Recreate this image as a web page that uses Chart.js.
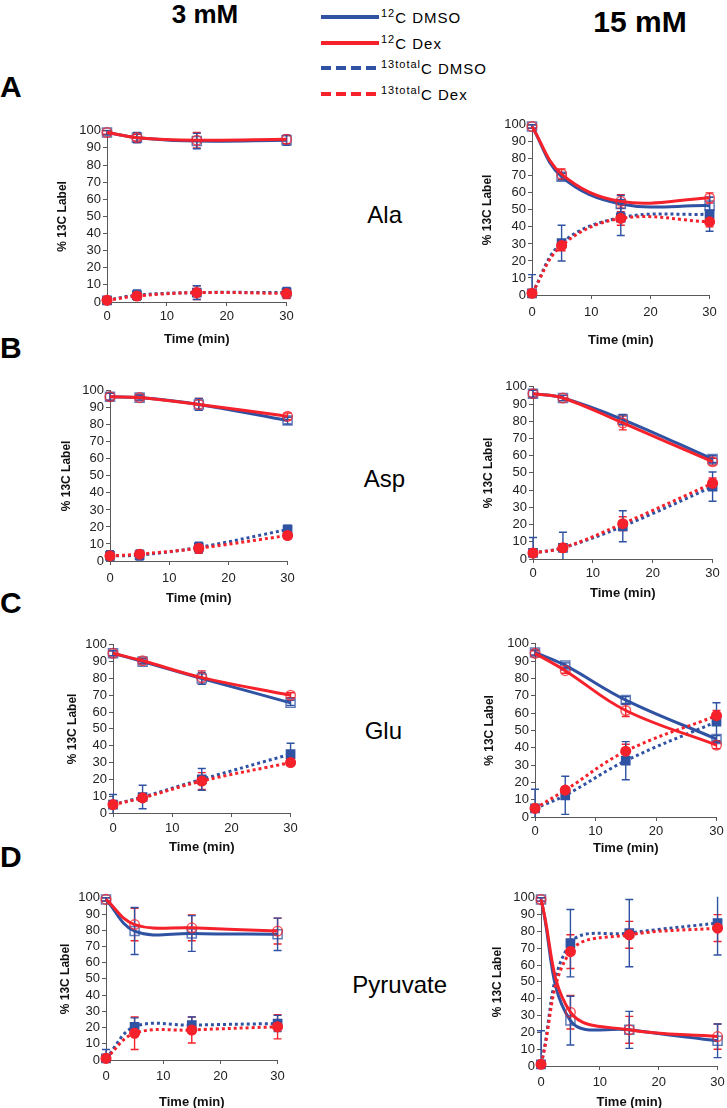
<!DOCTYPE html>
<html><head><meta charset="utf-8">
<script src="https://cdn.jsdelivr.net/npm/chart.js@4.4.1/dist/chart.umd.min.js"></script>
<style>
html,body{margin:0;padding:0;background:#fff;}
body{width:727px;height:1108px;position:relative;overflow:hidden;font-family:"Liberation Sans",Arial,Helvetica,sans-serif;}
canvas{position:absolute;}
.t{position:absolute;white-space:nowrap;color:#000;line-height:1;}
.lg{position:absolute;height:0;}
sup{font-size:11px;vertical-align:0;position:relative;top:-6px;}
</style></head><body>
<script>
// ---------- data ----------
const times = [0, 5, 15, 30];
const xTickValues = [0, 10, 20, 30];
const yTickValues = [0, 10, 20, 30, 40, 50, 60, 70, 80, 90, 100];
const concentrations = ['3 mM', '15 mM'];
const metabolites = ['Ala', 'Asp', 'Glu', 'Pyruvate'];
const panelLetters = ['A', 'B', 'C', 'D'];
const seriesNames = ['<sup>12</sup>C DMSO', '<sup>12</sup>C Dex', '<sup>13total</sup>C DMSO', '<sup>13total</sup>C Dex'];
const yAxisTitle = '% 13C Label';
const xAxisTitle = 'Time (min)';

// Ala 3 mM
const ala3_c12DMSO = [99, 96, 94, 94.5];      const ala3_c12DMSO_err = [1.5, 3, 4.5, 3];
const ala3_c12Dex = [99, 96, 94.5, 95];       const ala3_c12Dex_err = [1, 2, 4.5, 2.5];
const ala3_c13DMSO = [1, 4, 5.5, 5.5];        const ala3_c13DMSO_err = [1, 3, 4, 3];
const ala3_c13Dex = [1, 3.5, 5.5, 5];         const ala3_c13Dex_err = [1, 2, 4, 3];
// Ala 15 mM
const ala15_c12DMSO = [99, 69.5, 53.5, 52.5]; const ala15_c12DMSO_err = [1, 2, 5, 5];
const ala15_c12Dex = [99, 71, 55, 57];        const ala15_c12Dex_err = [1, 3, 4, 3];
const ala15_c13DMSO = [1, 30.5, 45.5, 47.5];  const ala15_c13DMSO_err = [11, 10.5, 10.5, 10];
const ala15_c13Dex = [1, 29, 45, 43];         const ala15_c13Dex_err = [1, 3, 4, 3];
// Asp 3 mM
const asp3_c12DMSO = [96.5, 96, 92, 82.5];    const asp3_c12DMSO_err = [2, 1.5, 3.5, 2];
const asp3_c12Dex = [96.5, 96, 92, 85];       const asp3_c12Dex_err = [2, 1.5, 3.5, 2];
const asp3_c13DMSO = [3, 3.5, 8, 18.5];       const asp3_c13DMSO_err = [3, 3, 3, 2.5];
const asp3_c13Dex = [3, 4, 7.5, 15];          const asp3_c13Dex_err = [2, 2, 3, 2];
// Asp 15 mM
const asp15_c12DMSO = [96, 93.5, 81, 58];     const asp15_c12DMSO_err = [2, 1.5, 3, 2];
const asp15_c12Dex = [96, 93.5, 79, 56.5];    const asp15_c12Dex_err = [2, 1.5, 4, 2];
const asp15_c13DMSO = [3.5, 6.5, 19, 42];     const asp15_c13DMSO_err = [9, 9, 9, 8.5];
const asp15_c13Dex = [3.5, 6.5, 20.5, 44];    const asp15_c13Dex_err = [2, 2, 4, 3];
// Glu 3 mM
const glu3_c12DMSO = [95, 90, 80, 65.5];      const glu3_c12DMSO_err = [1.5, 1.5, 3.5, 1.5];
const glu3_c12Dex = [95, 90.5, 80.5, 70];     const glu3_c12Dex_err = [1.5, 1.5, 4, 1.5];
const glu3_c13DMSO = [5, 9.5, 20, 35];        const glu3_c13DMSO_err = [6, 7, 6.5, 6.5];
const glu3_c13Dex = [5, 9, 19, 30];           const glu3_c13Dex_err = [1.5, 2, 5, 1.5];
// Glu 15 mM
const glu15_c12DMSO = [95, 87.5, 67.5, 45];   const glu15_c12DMSO_err = [1.5, 1.5, 2, 2];
const glu15_c12Dex = [94.5, 84.5, 61.5, 41.5];const glu15_c12Dex_err = [1.5, 1.5, 3.5, 2];
const glu15_c13DMSO = [5, 12.5, 32.5, 55];    const glu15_c13DMSO_err = [11, 11, 11, 11];
const glu15_c13Dex = [5, 15.5, 38, 58.5];     const glu15_c13Dex_err = [1.5, 2, 4, 3];
// Pyruvate 3 mM
const pyr3_c12DMSO = [99, 79.5, 78, 77.5];    const pyr3_c12DMSO_err = [1, 14.5, 11, 10];
const pyr3_c12Dex = [99, 83.5, 81.5, 79.5];   const pyr3_c12Dex_err = [1, 10, 8, 8];
const pyr3_c13DMSO = [1, 20.5, 21.5, 22.5];   const pyr3_c13DMSO_err = [5.5, 5.5, 5, 5];
const pyr3_c13Dex = [1, 16.5, 18.5, 20.5];    const pyr3_c13Dex_err = [1, 10, 8, 7.5];
// Pyruvate 15 mM
const pyr15_c12DMSO = [99, 27, 21.5, 15];     const pyr15_c12DMSO_err = [1, 14.5, 11, 10];
const pyr15_c12Dex = [99, 32, 21.5, 17.5];    const pyr15_c12Dex_err = [1, 10, 8, 7.5];
const pyr15_c13DMSO = [1, 73, 79, 85];        const pyr15_c13DMSO_err = [20, 20, 20, 19];
const pyr15_c13Dex = [1, 68, 78, 82];         const pyr15_c13Dex_err = [1, 10, 8, 8];

// ---------- styles / layout ----------
const BLUE = '#2F52A3', RED = '#F5212B';
const BLUE_OPEN = 'rgba(47,82,163,0.75)', RED_OPEN = 'rgba(245,33,43,0.75)';
const FONT = '"Liberation Sans", Arial, Helvetica, sans-serif';
const AXIS = '#595959';
const seriesStyles = [
  {color: BLUE, dash: [], shape: 'rect', r: 6.4, fill: 'rgba(255,255,255,0)', pcolor: BLUE_OPEN},
  {color: RED, dash: [], shape: 'circle', r: 4.8, fill: 'rgba(255,255,255,0)', pcolor: RED_OPEN},
  {color: BLUE, dash: [3, 3], shape: 'rect', r: 5.8, fill: BLUE, pcolor: BLUE},
  {color: RED, dash: [3, 3], shape: 'circle', r: 4.8, fill: RED, pcolor: RED}
];
const drawOrder = [1, 3, 0, 2]; // first = on top

const panels = [
  {s: [[ala3_c12DMSO, ala3_c12DMSO_err], [ala3_c12Dex, ala3_c12Dex_err], [ala3_c13DMSO, ala3_c13DMSO_err], [ala3_c13Dex, ala3_c13Dex_err]],
   box: {L:107, R:287, T:129, B:302, ylx:62, xtick:316, xty:339}},
  {s: [[ala15_c12DMSO, ala15_c12DMSO_err], [ala15_c12Dex, ala15_c12Dex_err], [ala15_c13DMSO, ala15_c13DMSO_err], [ala15_c13Dex, ala15_c13Dex_err]],
   box: {L:532, R:713, T:123, B:295, ylx:487, xtick:312, xty:340}},
  {s: [[asp3_c12DMSO, asp3_c12DMSO_err], [asp3_c12Dex, asp3_c12Dex_err], [asp3_c13DMSO, asp3_c13DMSO_err], [asp3_c13Dex, asp3_c13Dex_err]],
   box: {L:110, R:290.5, T:389, B:561, ylx:66, xtick:578, xty:598}},
  {s: [[asp15_c12DMSO, asp15_c12DMSO_err], [asp15_c12Dex, asp15_c12Dex_err], [asp15_c13DMSO, asp15_c13DMSO_err], [asp15_c13Dex, asp15_c13Dex_err]],
   box: {L:533, R:713, T:385, B:559, ylx:488, xtick:573, xty:593}},
  {s: [[glu3_c12DMSO, glu3_c12DMSO_err], [glu3_c12Dex, glu3_c12Dex_err], [glu3_c13DMSO, glu3_c13DMSO_err], [glu3_c13Dex, glu3_c13Dex_err]],
   box: {L:113, R:291.5, T:643, B:813, ylx:72, xtick:828, xty:847}},
  {s: [[glu15_c12DMSO, glu15_c12DMSO_err], [glu15_c12Dex, glu15_c12Dex_err], [glu15_c13DMSO, glu15_c13DMSO_err], [glu15_c13Dex, glu15_c13Dex_err]],
   box: {L:535, R:716.5, T:642, B:817, ylx:489, xtick:831, xty:848}},
  {s: [[pyr3_c12DMSO, pyr3_c12DMSO_err], [pyr3_c12Dex, pyr3_c12Dex_err], [pyr3_c13DMSO, pyr3_c13DMSO_err], [pyr3_c13Dex, pyr3_c13Dex_err]],
   box: {L:106, R:280, T:896, B:1060, ylx:65, xtick:1076, xty:1102}},
  {s: [[pyr15_c12DMSO, pyr15_c12DMSO_err], [pyr15_c12Dex, pyr15_c12Dex_err], [pyr15_c13DMSO, pyr15_c13DMSO_err], [pyr15_c13Dex, pyr15_c13Dex_err]],
   box: {L:541, R:720, T:896, B:1066, ylx:497, xtick:1082, xty:1102}}
];

// ---------- error bar plugin (uses chart scales) ----------
const errorBars = {
  id: 'errorBars',
  beforeDatasetsDraw(chart) {
    const {ctx, chartArea: a, scales: {x, y}} = chart;
    ctx.save();
    ctx.beginPath();
    ctx.rect(a.left - 10, a.top - 1, a.right - a.left + 20, a.bottom - a.top + 1);
    ctx.clip();
    chart.data.datasets.forEach(ds => {
      ctx.strokeStyle = ds.errColor;
      ctx.lineWidth = 1.4;
      ds.data.forEach((p, j) => {
        const e = ds.errors[j];
        const px = x.getPixelForValue(p.x);
        const y1 = y.getPixelForValue(p.y + e), y2 = y.getPixelForValue(p.y - e);
        ctx.beginPath();
        ctx.moveTo(px, y1); ctx.lineTo(px, y2);
        ctx.moveTo(px - 4, y1); ctx.lineTo(px + 4, y1);
        ctx.moveTo(px - 4, y2); ctx.lineTo(px + 4, y2);
        ctx.stroke();
      });
    });
    ctx.restore();
  }
};

function makeDataset(vals, errs, st) {
  return {
    data: times.map((t, i) => ({x: t, y: vals[i]})),
    errors: errs,
    errColor: st.color,
    borderColor: st.color,
    backgroundColor: st.fill,
    borderWidth: 3,
    borderDash: st.dash,
    borderCapStyle: 'butt',
    pointStyle: st.shape,
    pointRadius: st.r,
    pointBorderColor: st.pcolor,
    pointBackgroundColor: st.fill,
    pointBorderWidth: 1.5,
    tension: 0.38,
    clip: false
  };
}

panels.forEach(p => {
  const b = p.box;
  const left = Math.round(b.ylx - 7.2);
  const top = Math.round(b.T - 8);
  const width = Math.round(b.R + 9) - left;
  const height = Math.round(b.xty + 7.8) - top;
  const yw = b.L - left;
  const xh = top + height - b.B;
  const xpad = Math.max(0, b.xtick - b.B - 4 - 7.8);
  const cv = document.createElement('canvas');
  cv.width = width; cv.height = height;
  cv.style.left = left + 'px'; cv.style.top = top + 'px';
  cv.style.width = width + 'px'; cv.style.height = height + 'px';
  document.body.appendChild(cv);
  const datasets = drawOrder.map(i => makeDataset(p.s[i][0], p.s[i][1], seriesStyles[i]));
  new Chart(cv, {
    type: 'line',
    data: {datasets},
    plugins: [errorBars],
    options: {
      responsive: false, animation: false, devicePixelRatio: 1,
      layout: {padding: {left: 0, top: b.T - top, right: left + width - b.R, bottom: 0}},
      plugins: {legend: {display: false}, tooltip: {enabled: false}},
      scales: {
        x: {
          type: 'linear', min: 0, max: 30,
          afterBuildTicks: s => { s.ticks = xTickValues.map(v => ({value: v})); },
          afterFit: s => { s.height = xh; },
          ticks: {font: {family: FONT, size: 13}, color: '#222', padding: xpad, maxRotation: 0, autoSkip: false},
          grid: {display: true, drawOnChartArea: false, drawTicks: true, tickLength: 4, color: AXIS},
          border: {display: true, color: AXIS, width: 1},
          title: {display: true, text: xAxisTitle, font: {family: FONT, size: 13, weight: 'bold'}, color: '#111', padding: 0}
        },
        y: {
          min: 0, max: 100,
          afterBuildTicks: s => { s.ticks = yTickValues.map(v => ({value: v})); },
          ticks: {font: {family: FONT, size: 13}, color: '#222', padding: 2, autoSkip: false},
          afterFit: s => { s.width = yw; },
          grid: {display: true, drawOnChartArea: false, drawTicks: true, tickLength: 4, color: AXIS},
          border: {display: true, color: AXIS, width: 1},
          title: {display: true, text: yAxisTitle, font: {family: FONT, size: 12, weight: 'bold'}, color: '#111', padding: 0}
        }
      }
    }
  });
});

// ---------- text labels ----------
function addText(html, x, baseline, size, weight, align, extra) {
  const d = document.createElement('div');
  d.className = 't';
  d.innerHTML = html;
  d.style.fontSize = size + 'px';
  d.style.fontWeight = weight;
  d.style.top = (baseline - 0.85 * size) + 'px';
  if (align === 'right') d.style.right = (727 - x) + 'px';
  else if (align === 'center') { d.style.left = x + 'px'; d.style.transform = 'translateX(-50%)'; }
  else d.style.left = x + 'px';
  if (extra) Object.assign(d.style, extra);
  document.body.appendChild(d);
}
addText(concentrations[0], 205, 23, 26, 'bold', 'center');
addText(concentrations[1], 640, 32, 30, 'bold', 'center');
const letterBaselines = [97, 358, 613, 867];
panelLetters.forEach((l, i) => addText(l, 0, letterBaselines[i], 30, 'bold', 'left'));
const metaRight = [402, 405, 402, 447];
const metaBase = [223, 487, 739, 993];
metabolites.forEach((m, i) => addText(m, metaRight[i], metaBase[i], 24, 'normal', 'right'));

// legend
const legendY = [17, 42.5, 68, 93.5];
seriesNames.forEach((n, i) => {
  const st = seriesStyles[i];
  const ln = document.createElement('div');
  ln.className = 'lg';
  ln.style.left = '321px'; ln.style.width = '58px';
  ln.style.top = (legendY[i] - 2) + 'px';
  if (st.dash.length) {
    ln.style.height = '4px';
    ln.style.background = 'repeating-linear-gradient(90deg,' + st.color + ' 0 10px, transparent 10px 15px)';
  } else {
    ln.style.borderTop = '4px solid ' + st.color;
  }
  document.body.appendChild(ln);
  addText(n, 381, legendY[i] + 6, 15, 'normal', 'left', {letterSpacing: '1px'});
});
</script>
</body></html>
